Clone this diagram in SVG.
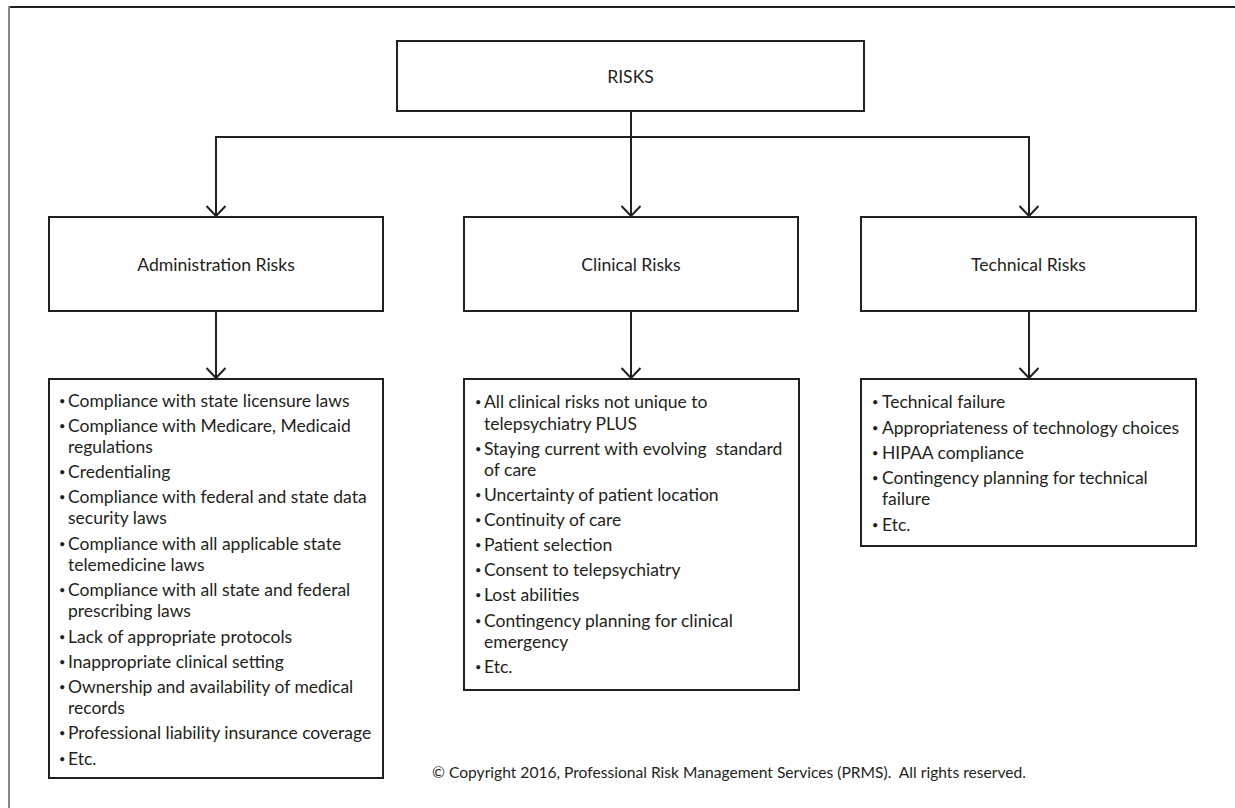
<svg xmlns="http://www.w3.org/2000/svg" width="1235" height="808" viewBox="0 0 1235 808">
<style>
.box{fill:#fff;stroke:#231f20;stroke-width:2}
.ln{fill:none;stroke:#231f20;stroke-width:2}
.hd{font-family:Lato,"Liberation Sans",sans-serif;font-size:17.6px;fill:#231f20;text-anchor:middle}
.it{font-family:Lato,"Liberation Sans",sans-serif;font-size:17.5px;fill:#231f20}
.bl{font-size:11px}
.cp{font-family:Lato,"Liberation Sans",sans-serif;font-size:15.6px;fill:#231f20}
</style>
<defs>
<marker id="arr" markerWidth="12" markerHeight="22" refX="11" refY="11" orient="auto" markerUnits="userSpaceOnUse" viewBox="0 0 12 22">
<path d="M1,1.5 L11,11 L1,20.5" fill="none" stroke="#231f20" stroke-width="2"/>
</marker>
</defs>
<rect width="1235" height="808" fill="#fff"/>
<g id="frame">
<line x1="9" y1="7" x2="1235" y2="7" stroke="#231f20" stroke-width="2"/>
<line x1="9" y1="6" x2="9" y2="808" stroke="#888" stroke-width="2"/>
</g>
<g id="connectors">
<path class="ln" d="M216,216 V137 H1029 V216"/>
<line class="ln" x1="216" y1="137" x2="216" y2="216" marker-end="url(#arr)"/>
<line class="ln" x1="1029" y1="137" x2="1029" y2="216" marker-end="url(#arr)"/>
<line class="ln" x1="631" y1="111" x2="631" y2="216" marker-end="url(#arr)"/>
<line class="ln" x1="216" y1="311" x2="216" y2="378" marker-end="url(#arr)"/>
<line class="ln" x1="631" y1="311" x2="631" y2="378" marker-end="url(#arr)"/>
<line class="ln" x1="1029" y1="311" x2="1029" y2="378" marker-end="url(#arr)"/>
</g>
<g id="risks">
<rect class="box" x="397" y="41" width="467" height="70"/>
<text class="hd" x="630.5" y="83">RISKS</text>
</g>
<g id="admin">
<rect class="box" x="49" y="217" width="334" height="94"/>
<text class="hd" x="216" y="271">Administration Risks</text>
</g>
<g id="clinical">
<rect class="box" x="464" y="217" width="334" height="94"/>
<text class="hd" x="631" y="271">Clinical Risks</text>
</g>
<g id="technical">
<rect class="box" x="861" y="217" width="335" height="94"/>
<text class="hd" x="1028.5" y="271">Technical Risks</text>
</g>
<g id="admin-list">
<rect class="box" x="49" y="379" width="334" height="399"/>
<g class="it">
<text class="bl" x="59" y="405">•</text><text x="68" y="407">Compliance with state licensure laws</text>
<text class="bl" x="59" y="430">•</text><text x="68" y="432">Compliance with Medicare, Medicaid</text>
<text x="68" y="453">regulations</text>
<text class="bl" x="59" y="476">•</text><text x="68" y="478">Credentialing</text>
<text class="bl" x="59" y="501">•</text><text x="68" y="503">Compliance with federal and state data</text>
<text x="68" y="524">security laws</text>
<text class="bl" x="59" y="548">•</text><text x="68" y="550">Compliance with all applicable state</text>
<text x="68" y="571">telemedicine laws</text>
<text class="bl" x="59" y="594">•</text><text x="68" y="596">Compliance with all state and federal</text>
<text x="68" y="617">prescribing laws</text>
<text class="bl" x="59" y="641">•</text><text x="68" y="643">Lack of appropriate protocols</text>
<text class="bl" x="59" y="666">•</text><text x="68" y="668">Inappropriate clinical setting</text>
<text class="bl" x="59" y="691">•</text><text x="68" y="693">Ownership and availability of medical</text>
<text x="68" y="714">records</text>
<text class="bl" x="59" y="737">•</text><text x="68" y="739">Professional liability insurance coverage</text>
<text class="bl" x="59" y="763">•</text><text x="68" y="765">Etc.</text>
</g>
</g>
<g id="clinical-list">
<rect class="box" x="464" y="379" width="335" height="311"/>
<g class="it">
<text class="bl" x="475" y="406">•</text><text x="484" y="408">All clinical risks not unique to</text>
<text x="484" y="430">telepsychiatry PLUS</text>
<text class="bl" x="475" y="453">•</text><text x="484" y="455" xml:space="preserve">Staying current with evolving  standard</text>
<text x="484" y="476">of care</text>
<text class="bl" x="475" y="499">•</text><text x="484" y="501">Uncertainty of patient location</text>
<text class="bl" x="475" y="524">•</text><text x="484" y="526">Continuity of care</text>
<text class="bl" x="475" y="549">•</text><text x="484" y="551">Patient selection</text>
<text class="bl" x="475" y="574">•</text><text x="484" y="576">Consent to telepsychiatry</text>
<text class="bl" x="475" y="599">•</text><text x="484" y="601">Lost abilities</text>
<text class="bl" x="475" y="625">•</text><text x="484" y="627">Contingency planning for clinical</text>
<text x="484" y="648">emergency</text>
<text class="bl" x="475" y="671">•</text><text x="484" y="673">Etc.</text>
</g>
</g>
<g id="technical-list">
<rect class="box" x="861" y="379" width="335" height="167"/>
<g class="it">
<text class="bl" x="872" y="406">•</text><text x="882" y="408">Technical failure</text>
<text class="bl" x="872" y="432">•</text><text x="882" y="434">Appropriateness of technology choices</text>
<text class="bl" x="872" y="457">•</text><text x="882" y="459">HIPAA compliance</text>
<text class="bl" x="872" y="482">•</text><text x="882" y="484">Contingency planning for technical</text>
<text x="882" y="505">failure</text>
<text class="bl" x="872" y="529">•</text><text x="882" y="531">Etc.</text>
</g>
</g>
<g id="copyright">
<text class="cp" x="432" y="778" xml:space="preserve">© Copyright 2016, Professional Risk Management Services (PRMS).  All rights reserved.</text>
</g>
</svg>
